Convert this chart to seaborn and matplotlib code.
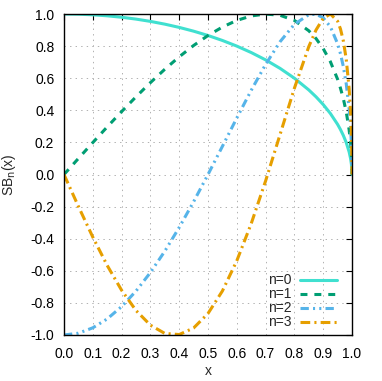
import matplotlib
matplotlib.use("Agg")
import matplotlib.pyplot as plt
import seaborn as sns
import pandas as pd

x_vals = [0.0, 0.05, 0.1, 0.15, 0.2, 0.25, 0.3, 0.35, 0.4, 0.45, 0.5, 0.55, 0.6, 0.65,
          0.7, 0.75, 0.8, 0.85, 0.875, 0.9, 0.925, 0.95, 0.96, 0.97, 0.98, 0.99, 0.995, 0.998, 1.0]
sb0 = [1.0, 0.99875, 0.99499, 0.98869, 0.9798, 0.96825, 0.95394, 0.93675, 0.91652, 0.89303,
       0.86603, 0.83516, 0.8, 0.75993, 0.71414, 0.66144, 0.6, 0.52678, 0.48412, 0.43589,
       0.37997, 0.31225, 0.28, 0.2431, 0.199, 0.14107, 0.09987, 0.06321, 0.0]
sb1 = [0.0, 0.09987, 0.199, 0.29661, 0.39192, 0.48412, 0.57236, 0.65573, 0.73321, 0.80373,
       0.86603, 0.91868, 0.96, 0.98791, 0.9998, 0.99216, 0.96, 0.89553, 0.84721, 0.7846,
       0.70294, 0.59327, 0.5376, 0.47162, 0.39004, 0.27932, 0.19874, 0.12617, 0.0]
sb2 = [-1.0, -0.98876, -0.95519, -0.89971, -0.82303, -0.72619, -0.61052, -0.47774, -0.32995,
       -0.16968, 0.0, 0.17538, 0.352, 0.52435, 0.68557, 0.8268, 0.936, 0.99562, 0.9985,
       0.97639, 0.92048, 0.81497, 0.75219, 0.67183, 0.56548, 0.41198, 0.29563, 0.18862, 0.0]
sb3 = [0.0, -0.19875, -0.39004, -0.56652, -0.72113, -0.84722, -0.93868, -0.99014, -0.99717,
       -0.95643, -0.86603, -0.72575, -0.5376, -0.30625, -0.03999, 0.24804, 0.5376, 0.79702,
       0.90016, 0.9729, 0.99993, 0.95517, 0.90661, 0.83173, 0.71829, 0.5364, 0.38955, 0.25032, 0.0]

labels = ["n=0", "n=1", "n=2", "n=3"]
series = [sb0, sb1, sb2, sb3]
colors = ["#40e0d0", "#009e73", "#56b4e9", "#e69f00"]
dash_styles = ["-", (0, (5, 5)), (0, (6, 3, 1.5, 3, 1.5, 3)), (0, (7, 3, 1.5, 3))]

sns.set_theme(style="white")
plt.rcParams["font.family"] = ["Liberation Sans", "DejaVu Sans"]
plt.rcParams["axes.unicode_minus"] = False
plt.rcParams["lines.scale_dashes"] = False

fig = plt.figure(figsize=(3.82, 3.81), dpi=100)
ax = fig.add_axes([64 / 382, 1 - 335 / 381, (352 - 64) / 382, (335 - 14) / 381])

for lab, ys, col, ls in zip(labels, series, colors, dash_styles):
    df = pd.DataFrame({"x": x_vals, "y": ys})
    sns.lineplot(data=df, x="x", y="y", ax=ax, color=col, linewidth=2.2,
                 linestyle=ls, label=lab, estimator=None, sort=False)

ax.set_xlim(0, 1)
ax.set_ylim(-1, 1)
ax.set_xticks([i / 10 for i in range(11)])
ax.set_yticks([-1 + 0.2 * i for i in range(11)])
ax.set_xticklabels([f"{i / 10:.1f}" for i in range(11)])
ax.set_yticklabels([f"{-1 + 0.2 * i:.1f}" for i in range(11)])
ax.tick_params(direction="in", length=4, width=0.8, top=True, right=True,
               labelsize=10, colors="black")
ax.tick_params(axis="x", pad=9)
ax.tick_params(axis="y", pad=7)
ax.grid(True, linestyle=(0, (1, 3)), color="#b0b0b0", linewidth=0.7)
for s in ax.spines.values():
    s.set_color("black")
    s.set_linewidth(1.0)
ax.set_xlabel("x", fontsize=10, labelpad=2)
ax.set_ylabel(r"SB$_{\rm n}$(x)", fontsize=10, labelpad=9)

leg = ax.legend(loc="lower right", bbox_to_anchor=(0.967, 0.0), frameon=False,
                markerfirst=False, fontsize=10, handlelength=2.65, labelspacing=0.0,
                borderaxespad=0.0, handletextpad=0.6)

fig.savefig("out.png", dpi=100)
